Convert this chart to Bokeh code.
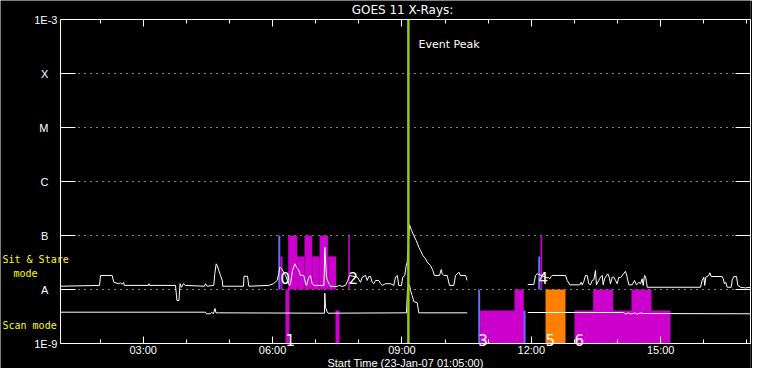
import numpy as np
from bokeh.plotting import figure
from bokeh.models import Range1d, FixedTicker, LinearAxis, LogAxis, Label
from bokeh.core.properties import value
from bokeh.embed import file_html
from bokeh.resources import INLINE

# ---------------- data (time = minutes after 23-Jan-07 01:05:00, flux in W/m^2) -------------
tick_minutes = [115, 295, 475, 655, 835]
tick_labels = ["03:00", "06:00", "09:00", "12:00", "15:00"]
minor_minutes = [55, 115, 175, 235, 295, 355, 415, 475, 535, 595, 655, 715, 775, 835, 895, 955]
flux_ticks = [1e-9, 1e-8, 1e-7, 1e-6, 1e-5, 1e-4, 1e-3]
flux_labels = ["1E-9", "A", "B", "C", "M", "X", "1E-3"]
grid_levels = [1e-8, 1e-7, 1e-6, 1e-5, 1e-4]
t_start, t_end = 0, 960
f_min, f_max = 1e-9, 1e-3
x_title = "Start Time (23-Jan-07 01:05:00)"

# long channel (1-8 A), first segment
long_t1 = [0, 54.3, 55.7, 71.9, 74.2, 80.7, 83.5, 85.6, 87.7, 89.0,
           122.4, 123.1, 123.8, 160.0, 162.0, 164.8, 166.3, 168.3, 171.1, 173.9,
           200.3, 201.7, 204.1, 213.3, 214.7, 216.6, 218.0, 220.2, 222.6, 225.0,
           225.8, 254.6, 255.3, 260.2, 262.0, 289.8, 296.3, 301.5, 303.7, 305.1,
           307.5, 313.0, 318.6, 320.0, 322.8, 326.0, 328.4, 331.5, 333.9, 338.5,
           340.9, 342.3, 345.5, 347.8, 350.2, 352.4, 366.6, 367.7, 370.1, 373.3,
           375.7, 385.0, 387.2, 391.9, 396.5, 399.7, 402.1, 413.2, 417.4, 419.8,
           424.3, 426.7, 428.9, 431.3, 433.7, 435.9, 438.3, 442.9, 445.2, 447.6,
           452.2, 459.1, 463.7, 466.1, 468.5, 470.7, 474.4, 476.2, 479.0, 481.0,
           482.4, 485.6, 488.4, 491.5, 494.9, 498.5, 500.9, 504.1, 507.8, 510.2,
           514.8, 518.0, 520.3, 527.3, 529.7, 531.1, 533.3, 538.0, 541.2, 547.2,
           549.6, 554.2, 556.5, 563.5, 565.8]
long_f1 = [1.15e-8, 1.19e-8, 1.82e-8, 1.82e-8, 1.36e-8, 1.28e-8, 1.33e-8, 1.24e-8, 1.35e-8, 1.19e-8,
           1.19e-8, 1.28e-8, 1.19e-8, 1.19e-8, 6.25e-9, 6.25e-9, 1.28e-8, 1.10e-8, 1.28e-8, 1.19e-8,
           1.15e-8, 1.28e-8, 1.15e-8, 1.19e-8, 1.98e-8, 2.99e-8, 2.78e-8, 2.25e-8, 1.82e-8, 1.47e-8,
           1.15e-8, 1.15e-8, 1.76e-8, 1.76e-8, 1.15e-8, 1.19e-8, 1.28e-8, 1.47e-8, 1.98e-8, 2.59e-8,
           2.45e-8, 1.82e-8, 1.19e-8, 1.28e-8, 2.25e-8, 2.99e-8, 2.59e-8, 2.25e-8, 1.82e-8, 1.82e-8,
           1.28e-8, 1.19e-8, 1.69e-8, 1.82e-8, 1.28e-8, 1.19e-8, 1.19e-8, 6.07e-8, 1.69e-8, 1.28e-8,
           1.14e-8, 1.14e-8, 1.19e-8, 1.14e-8, 1.19e-8, 1.47e-8, 1.82e-8, 1.69e-8, 1.36e-8, 1.69e-8,
           1.82e-8, 1.47e-8, 1.74e-8, 1.74e-8, 1.36e-8, 1.28e-8, 1.47e-8, 1.47e-8, 1.28e-8, 1.19e-8,
           1.28e-8, 1.28e-8, 1.19e-8, 1.69e-8, 1.82e-8, 1.19e-8, 1.19e-8, 1.69e-8, 1.82e-8, 2.78e-8,
           3.21e-8, 1.58e-7, 1.24e-7, 1.0e-7, 8.07e-8, 6.07e-8, 5.27e-8, 4.27e-8, 3.71e-8, 3.21e-8,
           2.78e-8, 2.25e-8, 1.82e-8, 1.82e-8, 2.34e-8, 1.95e-8, 1.82e-8, 1.82e-8, 1.19e-8, 1.19e-8,
           1.82e-8, 2.09e-8, 1.82e-8, 1.82e-8, 1.47e-8]

# long channel, second segment
long_t2 = [650.1, 658.5, 660.9, 663.2, 677.1, 679.4, 680.8, 682.7, 684.1, 702.6,
           705.0, 708.6, 722.5, 724.4, 725.8, 728.1, 730.4, 732.8, 735.0, 737.4,
           739.7, 742.0, 744.3, 745.7, 748.9, 751.3, 753.7, 755.0, 756.9, 759.6,
           761.5, 763.4, 765.2, 767.6, 769.8, 772.2, 774.5, 776.8, 779.1, 786.1,
           788.4, 790.7, 795.4, 798.6, 801.4, 803.2, 804.6, 807.0, 809.3, 810.7,
           812.5, 813.9, 815.3, 816.3, 890.4, 892.8, 895.0, 896.4, 897.8, 902.0,
           903.4, 905.3, 920.6, 922.0, 923.8, 925.6, 927.6, 933.2, 934.6, 936.8,
           940.5, 942.3, 946.1, 953.0, 960.0]
long_f2 = [1.24e-8, 1.24e-8, 1.82e-8, 1.95e-8, 1.65e-8, 1.65e-8, 1.58e-8, 1.74e-8, 1.82e-8, 1.82e-8,
           1.47e-8, 1.22e-8, 1.22e-8, 1.36e-8, 1.22e-8, 1.41e-8, 1.82e-8, 1.82e-8, 1.28e-8, 1.22e-8,
           1.47e-8, 1.51e-8, 2.25e-8, 1.22e-8, 1.47e-8, 1.69e-8, 1.82e-8, 1.22e-8, 1.58e-8, 1.82e-8,
           1.95e-8, 1.69e-8, 1.28e-8, 1.69e-8, 1.69e-8, 1.47e-8, 1.28e-8, 1.69e-8, 1.65e-8, 2.18e-8,
           1.69e-8, 1.22e-8, 1.22e-8, 1.47e-8, 1.22e-8, 1.28e-8, 1.36e-8, 1.28e-8, 1.58e-8, 1.19e-8,
           1.82e-8, 1.74e-8, 1.36e-8, 1.10e-8, 1.10e-8, 1.47e-8, 1.69e-8, 1.19e-8, 1.69e-8, 1.82e-8,
           2.04e-8, 1.74e-8, 1.74e-8, 1.58e-8, 1.28e-8, 1.36e-8, 1.10e-8, 1.10e-8, 1.51e-8, 1.74e-8,
           1.74e-8, 1.19e-8, 1.10e-8, 1.07e-8, 1.10e-8]

# short channel (0.5-4 A)
short_t1 = [0, 201.7, 203.1, 208.7, 210.1, 212.9, 215.0, 216.3, 219.8, 367.3, 367.7, 368.7,
            371.1, 372.2, 481.4, 482.8, 485.6, 487.0, 489.3, 491.5, 496.3, 498.5, 565.8]
short_f1 = [3.80e-9, 3.80e-9, 3.55e-9, 3.55e-9, 3.75e-9, 3.59e-9, 4.45e-9, 3.70e-9, 3.70e-9, 3.64e-9,
            8.53e-9, 4.70e-9, 3.80e-9, 3.64e-9, 3.70e-9, 1.04e-8, 1.22e-8, 9.58e-9, 7.74e-9, 6.00e-9,
            5.67e-9, 3.70e-9, 3.70e-9]
short_t2 = [650.1, 783.3, 786.1, 790.3, 794.4, 798.6, 802.8, 807.0, 811.2, 960.0]
short_f2 = [3.75e-9, 3.75e-9, 3.52e-9, 3.67e-9, 3.52e-9, 3.67e-9, 3.52e-9, 3.67e-9, 3.59e-9, 3.55e-9]

# Sit & Stare observations (bottom at A level)
ss_left = [306.1, 316.8, 329.3, 339.5, 350.2, 360.4, 372.5, 400.3, 667.8]
ss_right = [308.9, 329.3, 339.5, 350.2, 360.4, 372.5, 383.6, 402.5, 670.2]
ss_top = [4.1e-8, 1e-7, 4.1e-8, 1e-7, 4.1e-8, 1e-7, 4.1e-8, 1e-7, 1e-7]
ss_bottom = 1e-8
ss_marker_t = [304.4, 666.0]
ss_marker_top = [1e-7, 4.1e-8]

# Scan mode observations (bottom at 1E-9)
scan_left = [313.0, 382.6, 583.9, 631.6, 715.1, 741.1, 794.4]
scan_right = [318.6, 388.2, 644.6, 644.6, 848.7, 768.9, 822.3]
scan_top = [1e-8, 4.1e-9, 4.1e-9, 1e-8, 4.1e-9, 1e-8, 1e-8]
scan_bottom = 1e-9
scan_orange_left = [674.8]
scan_orange_right = [702.6]
scan_orange_top = [1e-8]
scan_marker_t = [582.5, 645.7]
scan_marker_top = [1e-8, 4.1e-9]

# event numbers
ev_names = ["0", "1", "2", "3", "4", "5", "6"]
ev_start = [306.1, 313.0, 400.7, 581.1, 665.1, 674.8, 715.1]
ev_mode = ["ss", "scan", "ss", "scan", "ss", "scan", "scan"]

# mode captions
mode_texts = ["Sit & Stare", "mode", "Scan mode"]

event_peak = 484

assert len(long_t1) == len(long_f1)
assert len(long_t2) == len(long_f2)

# ---------------- styling / layout helpers ----------------
MAGENTA = "#CC00CC"
BLUE = "#6A6AFF"
ORANGE = "#FF8000"
GREEN = "#99CC00"
YELLOW = "#FFFF00"
TICK_FONT = "Liberation Sans"
AXIS_PX = 60           # pixel column of the left axis
AXIS_BOTTOM_PX = 343   # pixel row of the 1E-9 axis
PX_PER_MIN = 690.0 / 960.0
PX_PER_DECADE = 54.0

# pixel -> data helpers (used to place the frame edges and text annotations)
def mx(px):
    return (px - AXIS_PX) / PX_PER_MIN

def fy(py):
    return 10 ** (-9 + (AXIS_BOTTOM_PX - py) / PX_PER_DECADE)

W, H = 752, 368
p = figure(width=W, height=H, x_range=Range1d(mx(0), mx(W - 2)), y_range=Range1d(fy(H), fy(0)),
           y_axis_type="log", output_backend="svg", toolbar_location=None,
           background_fill_color="black", border_fill_color="black",
           outline_line_color=None,
           min_border_left=0, min_border_right=2, min_border_top=0, min_border_bottom=0)
p.title.visible = False
p.xgrid.visible = False
p.ygrid.visible = False

# bottom axis pinned at 1E-9
xa = p.xaxis[0]
xa.fixed_location = f_min
xa.bounds = (t_start, t_end)
xa.ticker = FixedTicker(ticks=tick_minutes, minor_ticks=minor_minutes)
xa.major_label_overrides = {t: l for t, l in zip(tick_minutes, tick_labels)}
xa.axis_line_color = "white"
xa.major_tick_line_color = "white"
xa.minor_tick_line_color = "white"
xa.major_tick_in = 7
xa.major_tick_out = 0
xa.minor_tick_in = 4
xa.minor_tick_out = 0
xa.major_label_text_color = "white"
xa.major_label_text_font = TICK_FONT
xa.major_label_text_font_size = "11px"
xa.major_label_standoff = 0

# top axis pinned at 1E-3: hourly ticks and longer 3-hourly ticks (tick marks only)
top_hours = LinearAxis(ticker=FixedTicker(ticks=[], minor_ticks=minor_minutes),
                       fixed_location=f_max, bounds=(t_start, t_end),
                       axis_line_color="white", minor_tick_line_color="white",
                       major_tick_line_color=None, minor_tick_in=4, minor_tick_out=0,
                       major_tick_in=0, major_tick_out=0)
top_major = LinearAxis(ticker=FixedTicker(ticks=[], minor_ticks=tick_minutes),
                       fixed_location=f_max, bounds=(t_start, t_end),
                       axis_line_color=None, minor_tick_line_color="white",
                       major_tick_line_color=None, minor_tick_in=7, minor_tick_out=0,
                       major_tick_in=0, major_tick_out=0)
p.add_layout(top_hours, "above")
p.add_layout(top_major, "above")

# left axis pinned at the start time (class letters padded so they sit centred like IDL)
PAD = "\u00a0\u00a0\u00a0"
ya = p.yaxis[0]
ya.fixed_location = t_start
ya.bounds = (f_min, f_max)
ya.ticker = FixedTicker(ticks=flux_ticks, minor_ticks=[])
ya.major_label_overrides = {t: (l if l.startswith("1E") else l + PAD)
                            for t, l in zip(flux_ticks, flux_labels)}
ya.axis_line_color = "white"
ya.major_tick_line_color = "white"
ya.minor_tick_line_color = None
ya.major_tick_in = 15
ya.major_tick_out = 0
ya.major_label_text_color = "white"
ya.major_label_text_font = TICK_FONT
ya.major_label_text_font_size = "11px"
ya.major_label_standoff = 3

# right axis: tick marks only
right = LogAxis(ticker=FixedTicker(ticks=[], minor_ticks=flux_ticks), bounds=(f_min, f_max),
                axis_line_color="white", minor_tick_line_color="white", major_tick_line_color=None,
                minor_tick_in=15, minor_tick_out=0, major_tick_in=0, major_tick_out=0)
p.add_layout(right, "right")

# dotted class-level lines
p.segment(x0=[t_start] * len(grid_levels), x1=[t_end] * len(grid_levels),
          y0=grid_levels, y1=grid_levels, line_color="white", line_width=1, line_dash="1 5")

# observation bars
p.quad(left=ss_left, right=ss_right, bottom=ss_bottom, top=ss_top,
       fill_color=MAGENTA, line_color=None)
p.quad(left=scan_left, right=scan_right, bottom=scan_bottom, top=scan_top,
       fill_color=MAGENTA, line_color=None)
p.quad(left=scan_orange_left, right=scan_orange_right, bottom=scan_bottom, top=scan_orange_top,
       fill_color=ORANGE, line_color=None)
p.segment(x0=ss_marker_t, x1=ss_marker_t, y0=[ss_bottom] * len(ss_marker_t), y1=ss_marker_top,
          line_color=BLUE, line_width=2)
p.segment(x0=scan_marker_t, x1=scan_marker_t, y0=[scan_bottom] * len(scan_marker_t), y1=scan_marker_top,
          line_color=BLUE, line_width=2)

# GOES curves
for t, f in [(long_t1, long_f1), (long_t2, long_f2), (short_t1, short_f1), (short_t2, short_f2)]:
    p.line(t, f, line_color="white", line_width=1)

# event peak
p.segment(x0=[event_peak], x1=[event_peak], y0=[f_min], y1=[f_max], line_color=GREEN, line_width=2.5)
p.add_layout(Label(x=mx(418), y=fy(37), text="Event Peak", text_color="white",
                   text_font="DejaVu Sans", text_font_size="11px", text_baseline="top"))

# event numbers
ev_y = [fy(277) if m == "ss" else fy(339) for m in ev_mode]
p.text(x=ev_start, y=ev_y, text=ev_names, text_color="white", text_font=value("DejaVu Sans"),
       text_font_size="15px", text_baseline="alphabetic", text_align="left")

# title
p.add_layout(Label(x=mx(402), y=fy(9.5), text="GOES 11 X-Rays:", text_color="white",
                   text_font="DejaVu Sans", text_font_size="12px", text_align="center",
                   text_baseline="middle"))

# x-axis title, centred under the time axis
p.add_layout(Label(x=(t_start + t_end) / 2, y=fy(356.5), text=x_title, text_color="white",
                   text_font=TICK_FONT, text_font_size="11px", text_align="center",
                   text_baseline="top"))

# yellow mode captions left of the axis
for tx, px, py in zip(mode_texts, [2, 13, 2], [253, 267, 319]):
    p.add_layout(Label(x=mx(px), y=fy(py), text=tx, text_color=YELLOW,
                       text_font="DejaVu Sans Mono", text_font_size="10px", text_baseline="top"))

open("out.html", "w").write(file_html(p, INLINE))
